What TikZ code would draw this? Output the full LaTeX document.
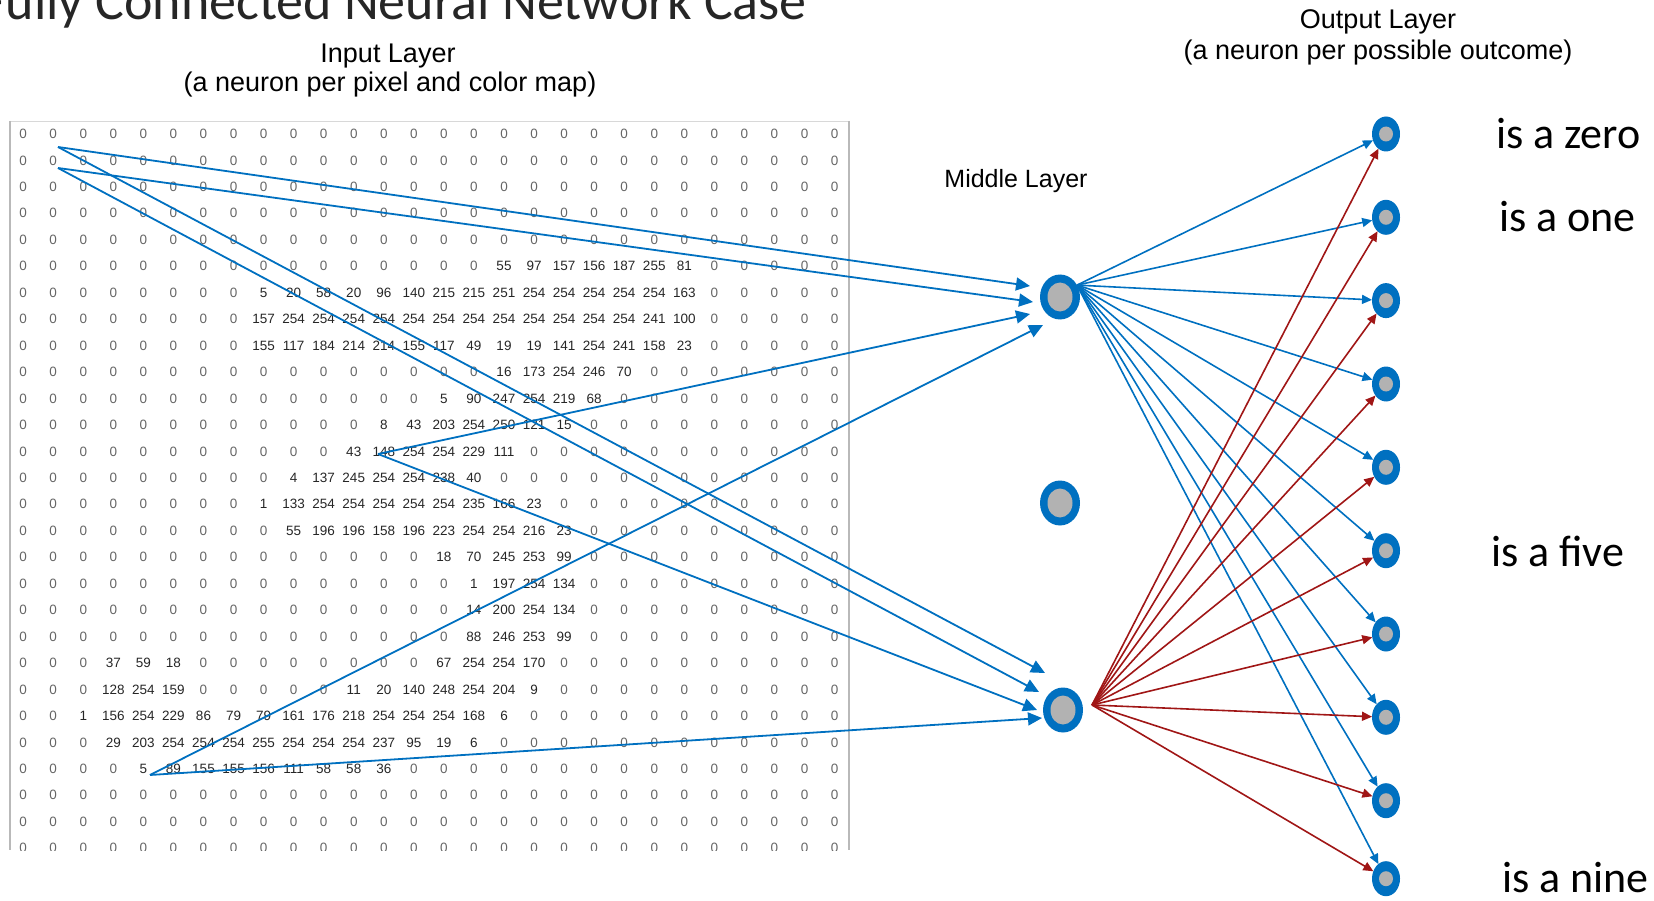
\documentclass[tikz,border=0pt]{standalone}
\usepackage{fontspec}
\setmainfont{Liberation Sans}
\newfontfamily\slidefont{Carlito}
\usetikzlibrary{arrows.meta,shapes.geometric,calc}

\definecolor{netblue}{RGB}{0,112,192}
\definecolor{netred}{RGB}{160,22,22}
\definecolor{cellgray}{RGB}{178,178,178}
\definecolor{framegray}{RGB}{185,185,185}

\tikzset{
  hidden/.style={ellipse, fill=netblue, inner sep=0pt, outer sep=0pt,
    minimum width=40pt, minimum height=45pt,
    path picture={\fill[cellgray] (path picture bounding box.center)
      ellipse [x radius=12.5pt, y radius=14.5pt];}},
  outcome/.style={ellipse, fill=netblue, inner sep=0pt, outer sep=0pt,
    minimum width=28pt, minimum height=35pt,
    path picture={\fill[cellgray] (path picture bounding box.center)
      ellipse [x radius=7pt, y radius=7.5pt];}},
  inlink/.style={draw=netblue, line width=1.8pt, -{Triangle[length=14pt,width=13pt]}},
  outlink/.style={draw=netblue, line width=1.6pt, -{Triangle[length=10pt,width=9pt]}},
  redlink/.style={draw=netred, line width=1.6pt, -{Triangle[length=10pt,width=9pt]}},
  layertext/.style={font=\fontsize{27}{31}\selectfont, anchor=base, inner sep=0pt},
  verdict/.style={font=\slidefont\fontsize{44}{50}\selectfont, anchor=base west, inner sep=0pt},
  pixel/.style={font=\fontsize{13.5}{14}\selectfont, inner sep=0pt, text=black!85},
  pixelzero/.style={pixel, text=black!60},
}

\begin{document}
\begin{tikzpicture}[x=1pt,y=-1pt]
\useasboundingbox (0,0) rectangle (1654,901);

% title
\node[font=\slidefont\fontsize{54}{60}\selectfont, anchor=base east, inner sep=0pt, text=black!85]
  (title) at (807,20) {Fully Connected Neural Network Case};

% layer captions
\node[layertext] (incap1) at (388,62.5) {Input Layer};
\node[layertext] (incap2) at (390,92) {(a neuron per pixel and color map)};
\node[layertext, font=\fontsize{25}{29}\selectfont] (midcap) at (1016,188) {Middle Layer};
\node[layertext] (outcap1) at (1378,28.5) {Output Layer};
\node[layertext] (outcap2) at (1378,59.5) {(a neuron per possible outcome)};

% pixel value grid (28 x 28)
\begin{scope}
\clip (9,121) rectangle (850,850);
\foreach \rowvals [count=\r from 0] in {
{0,0,0,0,0,0,0,0,0,0,0,0,0,0,0,0,0,0,0,0,0,0,0,0,0,0,0,0},
{0,0,0,0,0,0,0,0,0,0,0,0,0,0,0,0,0,0,0,0,0,0,0,0,0,0,0,0},
{0,0,0,0,0,0,0,0,0,0,0,0,0,0,0,0,0,0,0,0,0,0,0,0,0,0,0,0},
{0,0,0,0,0,0,0,0,0,0,0,0,0,0,0,0,0,0,0,0,0,0,0,0,0,0,0,0},
{0,0,0,0,0,0,0,0,0,0,0,0,0,0,0,0,0,0,0,0,0,0,0,0,0,0,0,0},
{0,0,0,0,0,0,0,0,0,0,0,0,0,0,0,0,55,97,157,156,187,255,81,0,0,0,0,0},
{0,0,0,0,0,0,0,0,5,20,58,20,96,140,215,215,251,254,254,254,254,254,163,0,0,0,0,0},
{0,0,0,0,0,0,0,0,157,254,254,254,254,254,254,254,254,254,254,254,254,241,100,0,0,0,0,0},
{0,0,0,0,0,0,0,0,155,117,184,214,214,155,117,49,19,19,141,254,241,158,23,0,0,0,0,0},
{0,0,0,0,0,0,0,0,0,0,0,0,0,0,0,0,16,173,254,246,70,0,0,0,0,0,0,0},
{0,0,0,0,0,0,0,0,0,0,0,0,0,0,5,90,247,254,219,68,0,0,0,0,0,0,0,0},
{0,0,0,0,0,0,0,0,0,0,0,0,8,43,203,254,250,121,15,0,0,0,0,0,0,0,0,0},
{0,0,0,0,0,0,0,0,0,0,0,43,148,254,254,229,111,0,0,0,0,0,0,0,0,0,0,0},
{0,0,0,0,0,0,0,0,0,4,137,245,254,254,238,40,0,0,0,0,0,0,0,0,0,0,0,0},
{0,0,0,0,0,0,0,0,1,133,254,254,254,254,254,235,166,23,0,0,0,0,0,0,0,0,0,0},
{0,0,0,0,0,0,0,0,0,55,196,196,158,196,223,254,254,216,23,0,0,0,0,0,0,0,0,0},
{0,0,0,0,0,0,0,0,0,0,0,0,0,0,18,70,245,253,99,0,0,0,0,0,0,0,0,0},
{0,0,0,0,0,0,0,0,0,0,0,0,0,0,0,1,197,254,134,0,0,0,0,0,0,0,0,0},
{0,0,0,0,0,0,0,0,0,0,0,0,0,0,0,14,200,254,134,0,0,0,0,0,0,0,0,0},
{0,0,0,0,0,0,0,0,0,0,0,0,0,0,0,88,246,253,99,0,0,0,0,0,0,0,0,0},
{0,0,0,37,59,18,0,0,0,0,0,0,0,0,67,254,254,170,0,0,0,0,0,0,0,0,0,0},
{0,0,0,128,254,159,0,0,0,0,0,11,20,140,248,254,204,9,0,0,0,0,0,0,0,0,0,0},
{0,0,1,156,254,229,86,79,79,161,176,218,254,254,254,168,6,0,0,0,0,0,0,0,0,0,0,0},
{0,0,0,29,203,254,254,254,255,254,254,254,237,95,19,6,0,0,0,0,0,0,0,0,0,0,0,0},
{0,0,0,0,5,89,155,155,156,111,58,58,36,0,0,0,0,0,0,0,0,0,0,0,0,0,0,0},
{0,0,0,0,0,0,0,0,0,0,0,0,0,0,0,0,0,0,0,0,0,0,0,0,0,0,0,0},
{0,0,0,0,0,0,0,0,0,0,0,0,0,0,0,0,0,0,0,0,0,0,0,0,0,0,0,0},
{0,0,0,0,0,0,0,0,0,0,0,0,0,0,0,0,0,0,0,0,0,0,0,0,0,0,0,0}} {
  \foreach \v [count=\c from 0] in \rowvals {
    \ifnum\v=0\relax
      \node[pixelzero] (px-\r-\c) at ({23.2+30.05*\c},{134+26.45*\r}) {0};
    \else
      \node[pixel] (px-\r-\c) at ({23.2+30.05*\c},{134+26.45*\r}) {\v};
    \fi
  }
}
\end{scope}
% frame of the pixel grid
\draw[framegray!55, line width=1pt] (10,121.5) -- (849,121.5);
\draw[framegray, line width=2pt] (10,121) -- (10,850);
\draw[framegray, line width=1.5pt] (849,121) -- (849,850);

% middle layer
\node[hidden] (m1) at (1060,297) {};
\node[hidden] (m2) at (1060,503) {};
\node[hidden] (m3) at (1063,710) {};

% output layer
\foreach \i/\y in {1/134,2/217.3,3/300.6,4/384,5/467.3,6/550.7,7/634,8/717.3,9/800.7,10/878.7}
  \node[outcome] (o\i) at (1386,\y) {};

% outcome captions
\node[verdict] (v0) at (1496,149) {is a zero};
\node[verdict] (v1) at (1499,232) {is a one};
\node[verdict] (v5) at (1491,566) {is a five};
\node[verdict] (v9) at (1502,892) {is a nine};

% pixels feeding the middle layer
\coordinate (p1) at (58,147);
\coordinate (p2) at (58,168);
\coordinate (p3) at (378,454);
\coordinate (p4) at (150,775);
\coordinate (m1-in1) at ($(m1)+(-30,-11)$);
\coordinate (m1-in2) at ($(m1)+(-27,5)$);
\coordinate (m1-in3) at ($(m1)+(-30,17)$);
\coordinate (m1-in4) at ($(m1)+(-17,28)$);
\coordinate (m3-in1) at ($(m3)+(-18,-37)$);
\coordinate (m3-in2) at ($(m3)+(-24,-18)$);
\coordinate (m3-in3) at ($(m3)+(-26,0)$);
\coordinate (m3-in4) at ($(m3)+(-21,8)$);
\foreach \k in {1,2,3,4} {
  \draw[inlink] (p\k) -- (m1-in\k);
  \draw[inlink] (p\k) -- (m3-in\k);
}

% middle layer to outputs
\coordinate (m3-fan) at ($(m3.east)+(9,-5)$);
\foreach \i in {1,...,10}
  \draw[outlink] (m1.35) -- (o\i);
\foreach \i in {1,...,10}
  \draw[redlink] (m3-fan) -- (o\i);
\end{tikzpicture}
\end{document}
